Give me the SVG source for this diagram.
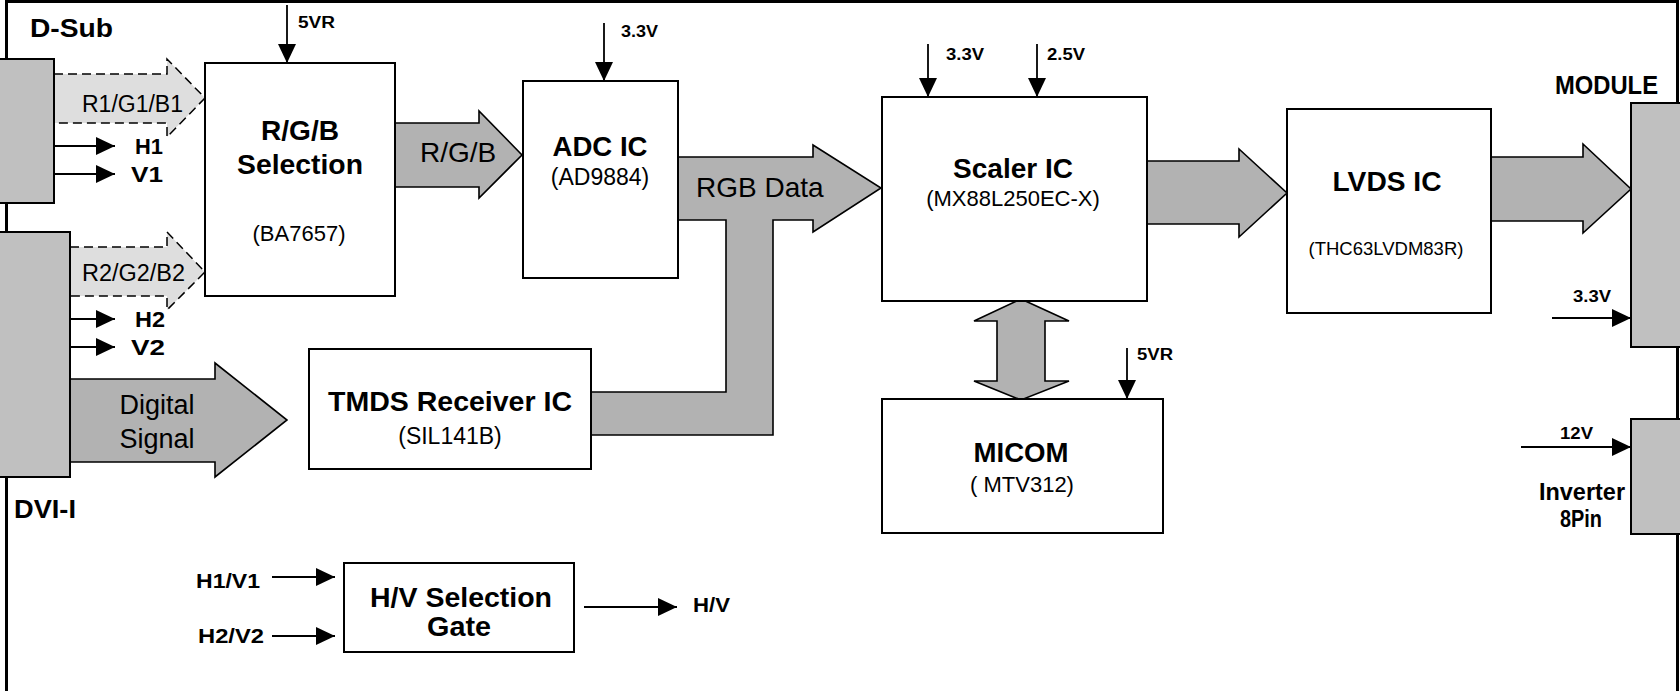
<svg xmlns="http://www.w3.org/2000/svg" width="1680" height="691" viewBox="0 0 1680 691">
<defs>
<style>
.box{fill:#fff;stroke:#000;stroke-width:2}
.conn{fill:#c0c0c0;stroke:#000;stroke-width:2}
.fat{fill:#b2b2b2;stroke:#000;stroke-width:1.6;stroke-linejoin:miter}
.dash{fill:#dedede;stroke:#000;stroke-width:1.5;stroke-dasharray:9 5}
.wire{stroke:#000;stroke-width:1.8;fill:none;marker-end:url(#ah)}
.b{font-family:"Liberation Sans",Arial,sans-serif;font-weight:bold;fill:#000}
.r{font-family:"Liberation Sans",Arial,sans-serif;fill:#000}
.m{text-anchor:middle}
</style>
<marker id="ah" markerUnits="userSpaceOnUse" viewBox="0 0 19 18" markerWidth="19" markerHeight="18" refX="19" refY="9" orient="auto">
<path d="M0,0 L19,9 L0,18 Z" fill="#000"/>
</marker>
</defs>
<rect width="1680" height="691" fill="#fff"/>
<rect x="6.5" y="1.5" width="1671" height="720" fill="none" stroke="#000" stroke-width="3"/>

<g id="connectors">
<path class="dash" d="M54,74 H167 V59 L205,98 L167,137 V123 H54"/>
<path class="dash" d="M70,247 H167 V232 L205,272 L167,310 V296 H70"/>
<path class="fat" d="M70,379 H215 V363 L287,420 L215,477 V462 H70"/>
<path class="fat" d="M395,123 H479 V111 L522,155 L479,198 V187 H395"/>
<path class="fat" d="M678,157 H813 V145 L881,188 L813,232 V220 H773 V435 H591 V392 H726 V220 H678"/>
<path class="fat" d="M1147,161 H1239 V149 L1287,193 L1239,237 V224 H1147"/>
<path class="fat" d="M1491,157 H1583 V144 L1631,189 L1583,233 V221 H1491"/>
<path class="fat" d="M1021,299 L1069,321 H1045 V381 H1069 L1021,400 L974,381 H997 V321 H974 Z"/>
<line class="wire" x1="54" y1="146" x2="115" y2="146"/>
<line class="wire" x1="54" y1="174" x2="115" y2="174"/>
<line class="wire" x1="70" y1="319" x2="115" y2="319"/>
<line class="wire" x1="70" y1="347" x2="115" y2="347"/>
<line class="wire" x1="287" y1="5" x2="287" y2="63"/>
<line class="wire" x1="604" y1="23" x2="604" y2="81"/>
<line class="wire" x1="928" y1="44" x2="928" y2="97"/>
<line class="wire" x1="1037" y1="44" x2="1037" y2="97"/>
<line class="wire" x1="1127" y1="348" x2="1127" y2="399"/>
<line class="wire" x1="1552" y1="318" x2="1631" y2="318"/>
<line class="wire" x1="1521" y1="447" x2="1631" y2="447"/>
<line class="wire" x1="272" y1="577" x2="335" y2="577"/>
<line class="wire" x1="272" y1="636" x2="335" y2="636"/>
<line class="wire" x1="584" y1="607" x2="677" y2="607"/>
</g>

<g id="dsub">
<rect class="conn" x="-2" y="59" width="56" height="144"/>
<text class="b" x="30" y="37" font-size="25" textLength="83" lengthAdjust="spacingAndGlyphs">D-Sub</text>
</g>
<g id="dvi">
<rect class="conn" x="-2" y="232" width="72" height="245"/>
<text class="b" x="14" y="518" font-size="26" textLength="62" lengthAdjust="spacingAndGlyphs">DVI-I</text>
</g>
<g id="module">
<rect class="conn" x="1631" y="103" width="60" height="244"/>
<text class="b" x="1555" y="94" font-size="25" textLength="103" lengthAdjust="spacingAndGlyphs">MODULE</text>
</g>
<g id="inverter">
<rect class="conn" x="1631" y="419" width="60" height="115"/>
<text class="b" x="1539" y="500" font-size="23" textLength="86" lengthAdjust="spacingAndGlyphs">Inverter</text>
<text class="b" x="1560" y="527" font-size="23" textLength="42" lengthAdjust="spacingAndGlyphs">8Pin</text>
</g>

<g id="rgbsel">
<rect class="box" x="205" y="63" width="190" height="233"/>
<text class="b m" x="300" y="140" font-size="28" textLength="78" lengthAdjust="spacingAndGlyphs">R/G/B</text>
<text class="b m" x="300" y="174" font-size="28" textLength="126" lengthAdjust="spacingAndGlyphs">Selection</text>
<text class="r m" x="299" y="241" font-size="22">(BA7657)</text>
</g>
<g id="adc">
<rect class="box" x="523" y="81" width="155" height="197"/>
<text class="b m" x="600" y="156" font-size="28" textLength="95" lengthAdjust="spacingAndGlyphs">ADC IC</text>
<text class="r m" x="600" y="185" font-size="23">(AD9884)</text>
</g>
<g id="scaler">
<rect class="box" x="882" y="97" width="265" height="204"/>
<text class="b m" x="1013" y="178" font-size="28" textLength="120" lengthAdjust="spacingAndGlyphs">Scaler IC</text>
<text class="r m" x="1013" y="206" font-size="22">(MX88L250EC-X)</text>
</g>
<g id="lvds">
<rect class="box" x="1287" y="109" width="204" height="204"/>
<text class="b m" x="1387" y="191" font-size="28" textLength="109" lengthAdjust="spacingAndGlyphs">LVDS IC</text>
<text class="r m" x="1386" y="255" font-size="18.5">(THC63LVDM83R)</text>
</g>
<g id="tmds">
<rect class="box" x="309" y="349" width="282" height="120"/>
<text class="b m" x="450" y="411" font-size="28" textLength="244" lengthAdjust="spacingAndGlyphs">TMDS Receiver IC</text>
<text class="r m" x="450" y="444" font-size="23">(SIL141B)</text>
</g>
<g id="micom">
<rect class="box" x="882" y="399" width="281" height="134"/>
<text class="b m" x="1021" y="462" font-size="28" textLength="95" lengthAdjust="spacingAndGlyphs">MICOM</text>
<text class="r m" x="1022" y="492" font-size="22">( MTV312)</text>
</g>
<g id="hvgate">
<rect class="box" x="344" y="563" width="230" height="89"/>
<text class="b m" x="461" y="607" font-size="28" textLength="182" lengthAdjust="spacingAndGlyphs">H/V Selection</text>
<text class="b m" x="459" y="636" font-size="28" textLength="64" lengthAdjust="spacingAndGlyphs">Gate</text>
</g>

<g id="labels">
<text class="r" x="82" y="112" font-size="23" textLength="101" lengthAdjust="spacingAndGlyphs">R1/G1/B1</text>
<text class="r" x="82" y="281" font-size="23" textLength="103" lengthAdjust="spacingAndGlyphs">R2/G2/B2</text>
<text class="b" x="135" y="154" font-size="22" textLength="28" lengthAdjust="spacingAndGlyphs">H1</text>
<text class="b" x="131" y="182" font-size="22" textLength="32" lengthAdjust="spacingAndGlyphs">V1</text>
<text class="b" x="135" y="327" font-size="22" textLength="30" lengthAdjust="spacingAndGlyphs">H2</text>
<text class="b" x="131" y="355" font-size="22" textLength="34" lengthAdjust="spacingAndGlyphs">V2</text>
<text class="r" x="157" y="414" font-size="27" text-anchor="middle">Digital</text>
<text class="r" x="157" y="448" font-size="27" text-anchor="middle">Signal</text>
<text class="r" x="420" y="162" font-size="28">R/G/B</text>
<text class="r" x="696" y="197" font-size="28">RGB Data</text>
<text class="b" x="298" y="28" font-size="16" textLength="37" lengthAdjust="spacingAndGlyphs">5VR</text>
<text class="b" x="621" y="37" font-size="16" textLength="37" lengthAdjust="spacingAndGlyphs">3.3V</text>
<text class="b" x="946" y="60" font-size="16" textLength="38" lengthAdjust="spacingAndGlyphs">3.3V</text>
<text class="b" x="1047" y="60" font-size="16" textLength="38" lengthAdjust="spacingAndGlyphs">2.5V</text>
<text class="b" x="1137" y="360" font-size="16" textLength="36" lengthAdjust="spacingAndGlyphs">5VR</text>
<text class="b" x="1573" y="302" font-size="16" textLength="38" lengthAdjust="spacingAndGlyphs">3.3V</text>
<text class="b" x="1560" y="439" font-size="16" textLength="33" lengthAdjust="spacingAndGlyphs">12V</text>
<text class="b" x="196" y="588" font-size="21" textLength="64" lengthAdjust="spacingAndGlyphs">H1/V1</text>
<text class="b" x="198" y="643" font-size="21" textLength="66" lengthAdjust="spacingAndGlyphs">H2/V2</text>
<text class="b" x="693" y="612" font-size="21" textLength="37" lengthAdjust="spacingAndGlyphs">H/V</text>
</g>
</svg>
